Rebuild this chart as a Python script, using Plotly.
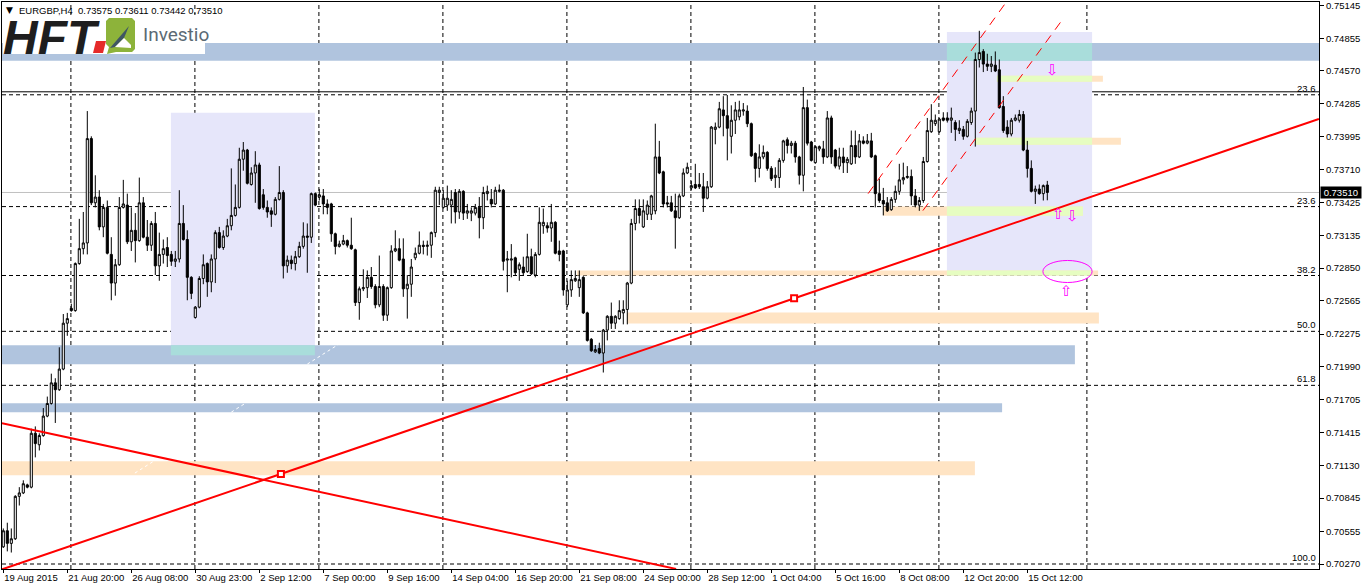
import plotly.graph_objects as go

# ---------------- data (EURGBP H4) ----------------
bars = list(range(262))

open_ = [0.7042,0.7056,0.7045,0.7049,0.7086,0.7089,0.7096,0.7094,0.7141,0.7131,
0.7139,0.7156,0.7167,0.7185,0.7179,0.7197,0.7237,0.7250,0.7248,0.7289,
0.7302,0.7307,0.7398,0.7342,0.7347,0.7321,0.7338,0.7297,0.7272,0.7288,
0.7338,0.7340,0.7308,0.7318,0.7309,0.7342,0.7312,0.7305,0.7324,0.7287,
0.7297,0.7303,0.7297,0.7291,0.7293,0.7324,0.7310,0.7277,0.7242,0.7251,
0.7276,0.7289,0.7273,0.7293,0.7316,0.7303,0.7313,0.7322,0.7331,0.7338,
0.7380,0.7388,0.7358,0.7368,0.7375,0.7349,0.7338,0.7335,0.7332,0.7345,
0.7351,0.7287,0.7292,0.7289,0.7295,0.7304,0.7313,0.7312,0.7350,0.7347,
0.7348,0.7341,0.7341,0.7315,0.7304,0.7306,0.7309,0.7305,0.7301,0.7255,
0.7267,0.7268,0.7277,0.7269,0.7253,0.7269,0.7244,0.7268,0.7300,0.7302,
0.7293,0.7267,0.7271,0.7294,0.7298,0.7305,0.7304,0.7305,0.7316,0.7351,
0.7338,0.7340,0.7340,0.7351,0.7334,0.7352,0.7333,0.7333,0.7333,0.7338,
0.7329,0.7350,0.7345,0.7341,0.7352,0.7353,0.7292,0.7292,0.7294,0.7284,
0.7286,0.7282,0.7295,0.7279,0.7297,0.7322,0.7322,0.7320,0.7325,0.7300,
0.7300,0.7253,0.7266,0.7274,0.7268,0.7277,0.7246,0.7223,0.7212,0.7215,
0.7211,0.7231,0.7243,0.7237,0.7241,0.7246,0.7249,0.7272,0.7324,0.7337,
0.7321,0.7332,0.7332,0.7335,0.7382,0.7369,0.7342,0.7342,0.7335,0.7329,
0.7348,0.7368,0.7355,0.7358,0.7358,0.7356,0.7346,0.7356,0.7406,0.7408,
0.7423,0.7418,0.7400,0.7414,0.7417,0.7422,0.7422,0.7411,0.7385,0.7372,
0.7382,0.7386,0.7372,0.7364,0.7364,0.7379,0.7397,0.7392,0.7394,0.7382,
0.7366,0.7425,0.7395,0.7377,0.7389,0.7389,0.7382,0.7416,0.7388,0.7374,
0.7382,0.7377,0.7376,0.7392,0.7382,0.7396,0.7394,0.7396,0.7383,0.7350,
0.7344,0.7342,0.7336,0.7345,0.7352,0.7362,0.7364,0.7365,0.7348,0.7340,
0.7344,0.7378,0.7404,0.7411,0.7404,0.7416,0.7416,0.7414,0.7412,0.7405,
0.7406,0.7400,0.7412,0.7422,0.7467,0.7474,0.7463,0.7461,0.7462,0.7458,
0.7426,0.7408,0.7402,0.7414,0.7414,0.7419,0.7388,0.7372,0.7352,0.7354,
0.7350,0.73575]

high = [0.7058,0.7063,0.7058,0.7087,0.7094,0.7100,0.7097,0.7145,0.7147,0.7141,
0.7163,0.7173,0.7193,0.7189,0.7216,0.7245,0.7246,0.7254,0.7290,0.7328,
0.7334,0.7422,0.7400,0.7366,0.7353,0.7341,0.7344,0.7312,0.7293,0.7347,
0.7362,0.7350,0.7338,0.7333,0.7364,0.7347,0.7327,0.7326,0.7334,0.7316,
0.7310,0.7312,0.7300,0.7300,0.7353,0.7340,0.7318,0.7278,0.7252,0.7278,
0.7297,0.7290,0.7297,0.7318,0.7321,0.7318,0.7328,0.7372,0.7358,0.7390,
0.7395,0.7389,0.7373,0.7387,0.7377,0.7354,0.7344,0.7338,0.7347,0.7374,
0.7353,0.7296,0.7296,0.7300,0.7308,0.7325,0.7324,0.7351,0.7351,0.7354,
0.7354,0.7345,0.7342,0.7316,0.7309,0.7314,0.7310,0.7329,0.7302,0.7269,
0.7284,0.7283,0.7286,0.7271,0.7296,0.7271,0.7269,0.7305,0.7318,0.7311,
0.7311,0.7279,0.7293,0.7303,0.7317,0.7309,0.7309,0.7317,0.7356,0.7356,
0.7353,0.7357,0.7353,0.7354,0.7354,0.7353,0.7341,0.7338,0.7341,0.7347,
0.7356,0.7357,0.7354,0.7356,0.7358,0.7354,0.7300,0.7306,0.7295,0.7290,
0.7295,0.7315,0.7302,0.7299,0.7338,0.7337,0.7325,0.7341,0.7326,0.7309,
0.7301,0.7274,0.7283,0.7283,0.7283,0.7278,0.7247,0.7224,0.7218,0.7220,
0.7232,0.7244,0.7255,0.7244,0.7257,0.7257,0.7273,0.7328,0.7345,0.7345,
0.7345,0.7344,0.7349,0.7411,0.7396,0.7370,0.7348,0.7348,0.7350,0.7350,
0.7372,0.7377,0.7361,0.7376,0.7368,0.7368,0.7361,0.7409,0.7412,0.7430,
0.7435,0.7436,0.7427,0.7430,0.7431,0.7429,0.7427,0.7412,0.7386,0.7393,
0.7392,0.7387,0.7374,0.7373,0.7381,0.7397,0.7399,0.7396,0.7396,0.7383,
0.7443,0.7432,0.7396,0.7392,0.7392,0.7396,0.7422,0.7418,0.7389,0.7390,
0.7390,0.7382,0.7405,0.7405,0.7402,0.7400,0.7402,0.7403,0.7384,0.7363,
0.7355,0.7347,0.7347,0.7357,0.7376,0.7377,0.7374,0.7371,0.7354,0.7347,
0.7382,0.7416,0.7428,0.7419,0.7416,0.7421,0.7421,0.7425,0.7414,0.7414,
0.7409,0.7415,0.7425,0.7473,0.7492,0.7476,0.7472,0.7470,0.7474,0.7467,
0.7435,0.7414,0.7416,0.7419,0.7423,0.7422,0.7396,0.7379,0.7357,0.7358,
0.7358,0.73611]

low = [0.7041,0.7038,0.7037,0.7048,0.7078,0.7088,0.7093,0.7093,0.7120,0.7126,
0.7138,0.7155,0.7166,0.7150,0.7178,0.7196,0.7226,0.7247,0.7247,0.7288,
0.7297,0.7297,0.7340,0.7338,0.7318,0.7312,0.7297,0.7257,0.7261,0.7287,
0.7337,0.7306,0.7300,0.7290,0.7308,0.7311,0.7300,0.7300,0.7279,0.7274,
0.7289,0.7286,0.7287,0.7286,0.7290,0.7309,0.7257,0.7258,0.7241,0.7250,
0.7271,0.7260,0.7264,0.7272,0.7302,0.7301,0.7312,0.7318,0.7330,0.7337,
0.7370,0.7358,0.7357,0.7342,0.7336,0.7336,0.7329,0.7321,0.7331,0.7344,
0.7276,0.7281,0.7284,0.7283,0.7294,0.7302,0.7281,0.7307,0.7339,0.7344,
0.7332,0.7332,0.7308,0.7297,0.7303,0.7305,0.7303,0.7301,0.7252,0.7240,
0.7265,0.7259,0.7267,0.7250,0.7251,0.7239,0.7239,0.7267,0.7299,0.7291,
0.7260,0.7241,0.7260,0.7292,0.7297,0.7297,0.7296,0.7294,0.7312,0.7340,
0.7337,0.7335,0.7324,0.7324,0.7328,0.7327,0.7328,0.7326,0.7331,0.7311,
0.7319,0.7344,0.7338,0.7340,0.7351,0.7283,0.7264,0.7277,0.7279,0.7274,
0.7279,0.7281,0.7279,0.7277,0.7296,0.7315,0.7316,0.7308,0.7297,0.7291,
0.7261,0.7251,0.7260,0.7273,0.7260,0.7245,0.7221,0.7212,0.7211,0.7210,
0.7194,0.7222,0.7232,0.7232,0.7240,0.7236,0.7236,0.7271,0.7318,0.7324,
0.7320,0.7327,0.7327,0.7332,0.7367,0.7338,0.7338,0.7334,0.7302,0.7328,
0.7347,0.7367,0.7353,0.7354,0.7354,0.7334,0.7345,0.7355,0.7393,0.7407,
0.7400,0.7379,0.7385,0.7402,0.7414,0.7418,0.7408,0.7382,0.7360,0.7364,
0.7380,0.7370,0.7361,0.7355,0.7355,0.7377,0.7385,0.7385,0.7377,0.7358,
0.7352,0.7392,0.7378,0.7376,0.7387,0.7376,0.7381,0.7376,0.7372,0.7371,
0.7368,0.7368,0.7375,0.7376,0.7381,0.7393,0.7393,0.7381,0.7338,0.7342,
0.7331,0.7334,0.7335,0.7342,0.7349,0.7358,0.7363,0.7340,0.7338,0.7335,
0.7342,0.7377,0.7403,0.7409,0.7403,0.7413,0.7412,0.7403,0.7396,0.7402,
0.7397,0.7399,0.7410,0.7391,0.7460,0.7456,0.7457,0.7456,0.7456,0.7424,
0.7403,0.7399,0.7400,0.7413,0.7412,0.7387,0.7364,0.7351,0.7341,0.7349,
0.7344,0.73442]

close = [0.7056,0.7045,0.7049,0.7086,0.7089,0.7097,0.7094,0.7141,0.7132,0.7139,
0.7156,0.7167,0.7185,0.7179,0.7197,0.7237,0.7241,0.7248,0.7289,0.7302,
0.7307,0.7398,0.7342,0.7347,0.7321,0.7338,0.7298,0.7272,0.7288,0.7338,
0.7341,0.7308,0.7318,0.7309,0.7342,0.7312,0.7305,0.7324,0.7287,0.7297,
0.7302,0.7296,0.7291,0.7293,0.7324,0.7310,0.7277,0.7263,0.7251,0.7276,
0.7288,0.7273,0.7293,0.7316,0.7303,0.7313,0.7322,0.7331,0.7338,0.7380,
0.7388,0.7359,0.7368,0.7375,0.7337,0.7338,0.7334,0.7332,0.7345,0.7351,
0.7287,0.7292,0.7289,0.7295,0.7304,0.7313,0.7312,0.7350,0.7340,0.7349,
0.7341,0.7338,0.7315,0.7304,0.7306,0.7309,0.7305,0.7302,0.7255,0.7267,
0.7268,0.7277,0.7269,0.7253,0.7269,0.7244,0.7268,0.7300,0.7302,0.7292,
0.7267,0.7271,0.7286,0.7298,0.7305,0.7304,0.7305,0.7316,0.7353,0.7353,
0.7346,0.7346,0.7345,0.7334,0.7352,0.7333,0.7335,0.7335,0.7338,0.7329,
0.7351,0.7352,0.7341,0.7353,0.7353,0.7291,0.7293,0.7293,0.7281,0.7288,
0.7281,0.7295,0.7280,0.7297,0.7325,0.7325,0.7320,0.7325,0.7298,0.7297,
0.7266,0.7266,0.7275,0.7276,0.7275,0.7246,0.7222,0.7213,0.7214,0.7211,
0.7231,0.7243,0.7237,0.7243,0.7248,0.7249,0.7272,0.7324,0.7337,0.7331,
0.7335,0.7340,0.7348,0.7382,0.7368,0.7341,0.7341,0.7335,0.7329,0.7348,
0.7368,0.7373,0.7357,0.7355,0.7356,0.7346,0.7356,0.7408,0.7408,0.7424,
0.7418,0.7407,0.7414,0.7423,0.7423,0.7423,0.7411,0.7383,0.7372,0.7382,
0.7386,0.7372,0.7363,0.7366,0.7379,0.7396,0.7392,0.7394,0.7382,0.7366,
0.7425,0.7394,0.7379,0.7391,0.7391,0.7382,0.7416,0.7382,0.7374,0.7382,
0.7377,0.7380,0.7392,0.7382,0.7396,0.7394,0.7396,0.7382,0.7350,0.7344,
0.7341,0.7335,0.7345,0.7352,0.7362,0.7364,0.7365,0.7348,0.7340,0.7344,
0.7378,0.7405,0.7414,0.7414,0.7415,0.7414,0.7414,0.7416,0.7406,0.7407,
0.7400,0.7413,0.7422,0.7467,0.7473,0.7463,0.7461,0.7463,0.7457,0.7425,
0.7405,0.7402,0.7414,0.7416,0.7419,0.7388,0.7372,0.7352,0.7354,0.7350,
0.7357,0.73510]

date_tick_bars = [0, 16, 32, 48, 64, 80, 96, 112, 128, 144, 160, 176, 192, 208, 224, 240, 256]
date_tick_labels = ["19 Aug 2015", "21 Aug 20:00", "26 Aug 08:00", "30 Aug 23:00", "2 Sep 12:00",
                    "7 Sep 00:00", "9 Sep 16:00", "14 Sep 04:00", "16 Sep 20:00", "21 Sep 08:00",
                    "24 Sep 00:00", "28 Sep 12:00", "1 Oct 04:00", "5 Oct 16:00", "8 Oct 08:00",
                    "12 Oct 20:00", "15 Oct 12:00"]
price_ticks = [0.75145, 0.74855, 0.74570, 0.74285, 0.73995, 0.73710, 0.73425, 0.73135, 0.72850,
               0.72565, 0.72275, 0.71990, 0.71705, 0.71415, 0.71130, 0.70845, 0.70555, 0.70270]
week_separator_bars = [16.9, 47.9, 78.9, 109.9, 140.9, 171.9, 202.9, 233.9, 270.9]

fib_levels = [0.74362, 0.73387, 0.72786, 0.72299, 0.71828, 0.70270]
fib_labels = ["23.6", "23.6", "38.2", "50.0", "61.8", "100.0"]
top_level = 0.74388
last_price = 0.73510
symbol_title = "EURGBP,H4  0.73575 0.73611 0.73442 0.73510"

# trend lines (bar index, price)
uptrend_bars = [-0.33, 328.9]
uptrend_prices = [0.70223, 0.74152]
uptrend_anchor_bars = [69.4, 197.7]
uptrend_anchor_prices = [0.71055, 0.72587]
downtrend_bars = [-0.33, 168.2]
downtrend_prices = [0.71498, 0.70227]
channel_upper_bars = [216.2, 250.4]
channel_upper_prices = [0.73500, 0.75154]
channel_lower_bars = [229.9, 264.9]
channel_lower_prices = [0.73352, 0.75023]
white_line_bars = [32.9, 84.2]
white_line_prices = [0.71063, 0.72194]

# zones: (bar_from, bar_to, price_low, price_high)
lavender_zones = [(41.9, 77.9, 0.72090, 0.74205), (235.9, 272.2, 0.72786, 0.74910)]
blue_zones = [(-1, 330, 0.74658, 0.74814), (-1, 267.9, 0.72011, 0.72177), (-1, 249.7, 0.71593, 0.71672)]
peach_zones = [(-1, 242.9, 0.71045, 0.71167), (155.9, 273.9, 0.72368, 0.72464),
               (143.4, 273.7, 0.72786, 0.72829), (219.9, 269.9, 0.73308, 0.73387),
               (242.9, 279.4, 0.73926, 0.73987), (248.4, 274.9, 0.74475, 0.74527)]

# marks: (bar, price, glyph)
arrow_bars = [262.4, 263.9, 267.4, 265.9]
arrow_prices = [0.74579, 0.73326, 0.73308, 0.72647]
arrow_glyphs = ["\u21e9", "\u21e7", "\u21e9", "\u21e7"]
ellipse_bars = [259.9, 272.2]
ellipse_prices = [0.72725, 0.72917]

# ---------------- layout geometry ----------------
W, H = 1362, 586
ML, MR, MT, MB = 2, 43, 2, 17
PW, PH = W - ML - MR, H - MT - MB
X_RANGE = [-0.325, 328.925]
Y_RANGE = [0.702264, 0.751712]


def pxp(x):
    return (x - ML) / PW


def pyp(y):
    return (H - MB - y) / PH


LAV, BLUE, PEACH = "#E6E6FA", "#B0C4DE", "#FFE4C4"
TEAL, LGREEN = "#A9DDDB", "#E6FDC1"

shapes = []


def rect(z, color):
    shapes.append(dict(type="rect", xref="x", yref="y", x0=z[0], x1=z[1], y0=z[2], y1=z[3],
                       fillcolor=color, line=dict(width=0), layer="below"))


def inter(a, b):
    x0, x1 = max(a[0], b[0]), min(a[1], b[1])
    y0, y1 = max(a[2], b[2]), min(a[3], b[3])
    if x0 < x1 and y0 < y1:
        return (x0, x1, y0, y1)
    return None


for z in lavender_zones:
    rect(z, LAV)
for z in blue_zones:
    rect(z, BLUE)
for z in peach_zones:
    rect(z, PEACH)
for lz in lavender_zones:
    for z in blue_zones:
        o = inter(lz, z)
        if o:
            rect(o, TEAL)
    for z in peach_zones:
        o = inter(lz, z)
        if o:
            rect(o, LGREEN)

shapes.append(dict(type="line", xref="x", yref="y", x0=white_line_bars[0], x1=white_line_bars[1],
                   y0=white_line_prices[0], y1=white_line_prices[1],
                   line=dict(color="white", width=1, dash="3px,3px"), layer="below"))

for b in week_separator_bars:
    shapes.append(dict(type="line", xref="x", yref="paper", x0=b, x1=b, y0=0, y1=1,
                       line=dict(color="black", width=1, dash="4px,3px"), layer="below"))
for lv in fib_levels:
    shapes.append(dict(type="line", xref="paper", yref="y", x0=0, x1=1, y0=lv, y1=lv,
                       line=dict(color="black", width=1, dash="4px,3px"), layer="below"))
shapes.append(dict(type="line", xref="paper", yref="y", x0=0, x1=1, y0=top_level, y1=top_level,
                   line=dict(color="black", width=1), layer="below"))
shapes.append(dict(type="line", xref="paper", yref="y", x0=0, x1=1, y0=last_price, y1=last_price,
                   line=dict(color="#C0C0C0", width=1), layer="below"))

shapes.append(dict(type="circle", xref="x", yref="y", x0=ellipse_bars[0], x1=ellipse_bars[1],
                   y0=ellipse_prices[0], y1=ellipse_prices[1],
                   line=dict(color="#FF00FF", width=1), layer="above"))

# ---- logo (paper coordinates from pixel positions) ----
shapes.append(dict(type="rect", xref="paper", yref="paper", x0=pxp(3), x1=pxp(205), y0=pyp(54), y1=pyp(15),
                   fillcolor="white", line=dict(width=0), layer="above"))


def poly(pts):
    return "M " + " L ".join("{},{}".format(pxp(a), pyp(b)) for a, b in pts) + " Z"


shapes.append(dict(type="path", xref="paper", yref="paper",
                   path=poly([(93, 53), (96, 41), (106, 41), (103, 53)]),
                   fillcolor="#E52A2A", line=dict(width=0), layer="above"))
shapes.append(dict(type="path", xref="paper", yref="paper",
                   path=poly([(109, 18), (132, 18), (135, 21), (135, 49), (132, 52), (116, 52),
                              (107, 54), (109, 47), (106, 44), (106, 21)]),
                   fillcolor="#8DB33A", line=dict(width=0), layer="above"))
shapes.append(dict(type="path", xref="paper", yref="paper",
                   path=poly([(110, 48), (129, 26), (124, 38), (115, 47)]),
                   fillcolor="#3F5663", line=dict(width=0), layer="above"))
shapes.append(dict(type="path", xref="paper", yref="paper",
                   path=poly([(115, 47), (124, 38), (131, 45), (131, 48)]),
                   fillcolor="#FFFFFF", line=dict(width=0), layer="above"))

annotations = []
FONT = "Liberation Sans"
annotations.append(dict(xref="paper", yref="paper", x=pxp(4), y=pyp(10), xanchor="left", yanchor="middle",
                        text="\u25bc", showarrow=False, font=dict(family="DejaVu Sans", size=9, color="black")))
annotations.append(dict(xref="paper", yref="paper", x=pxp(17), y=pyp(10), xanchor="left", yanchor="middle",
                        text=symbol_title.replace("  ", "&nbsp;&nbsp;"), showarrow=False,
                        font=dict(family=FONT, size=9.5, color="black")))
annotations.append(dict(xref="paper", yref="paper", x=pxp(1), y=pyp(37), xanchor="left", yanchor="middle",
                        text="<b><i>HFT</i></b>", showarrow=False, height=38, valign="middle",
                        font=dict(family=FONT, size=48, color="#1E1E1E")))
annotations.append(dict(xref="paper", yref="paper", x=pxp(141), y=pyp(34), xanchor="left", yanchor="middle",
                        text="Investio", showarrow=False,
                        font=dict(family="Roboto", size=19, color="#5B6A74")))

for lv, lab in zip(fib_levels, fib_labels):
    annotations.append(dict(xref="paper", yref="y", x=1, y=lv, xanchor="right", yanchor="bottom",
                            xshift=-2, text=lab, showarrow=False, borderpad=0,
                            font=dict(family=FONT, size=9.5, color="black")))

# top price label (kept visible at the upper edge)
annotations.append(dict(xref="paper", yref="y", x=1, y=price_ticks[0], xanchor="left", yanchor="middle",
                        xshift=6, text="{:.5f}".format(price_ticks[0]), showarrow=False, borderpad=0,
                        font=dict(family=FONT, size=9.5, color="black")))

annotations.append(dict(xref="paper", yref="y", x=1, y=last_price, xanchor="left", yanchor="middle",
                        xshift=1, text="&nbsp;" + "{:.5f}".format(last_price) + "&nbsp;",
                        showarrow=False, bgcolor="black", borderpad=0,
                        font=dict(family=FONT, size=9.5, color="white")))

for b, p, g in zip(arrow_bars, arrow_prices, arrow_glyphs):
    annotations.append(dict(xref="x", yref="y", x=b, y=p, text=g, showarrow=False,
                            font=dict(family="DejaVu Sans", size=15, color="#FF00FF")))

fig = go.Figure()
fig.add_trace(go.Candlestick(
    x=bars, open=open_, high=high, low=low, close=close,
    increasing=dict(line=dict(color="black", width=1), fillcolor="white"),
    decreasing=dict(line=dict(color="black", width=1), fillcolor="black"),
    whiskerwidth=0, hoverinfo="skip", showlegend=False))

fig.add_trace(go.Scatter(x=uptrend_bars, y=uptrend_prices, mode="lines",
                         line=dict(color="#FF0000", width=2), hoverinfo="skip", showlegend=False))
fig.add_trace(go.Scatter(x=downtrend_bars, y=downtrend_prices, mode="lines",
                         line=dict(color="#FF0000", width=2), hoverinfo="skip", showlegend=False))
fig.add_trace(go.Scatter(x=channel_upper_bars, y=channel_upper_prices, mode="lines",
                         line=dict(color="#FF0000", width=1, dash="9px,7px"), hoverinfo="skip", showlegend=False))
fig.add_trace(go.Scatter(x=channel_lower_bars, y=channel_lower_prices, mode="lines",
                         line=dict(color="#FF0000", width=1, dash="9px,7px"), hoverinfo="skip", showlegend=False))
fig.add_trace(go.Scatter(x=uptrend_anchor_bars, y=uptrend_anchor_prices, mode="markers",
                         marker=dict(symbol="square", size=6, color="white",
                                     line=dict(color="#FF0000", width=2)),
                         hoverinfo="skip", showlegend=False))

fig.update_layout(
    width=W, height=H,
    margin=dict(l=ML, r=MR, t=MT, b=MB, pad=0, autoexpand=False),
    paper_bgcolor="white", plot_bgcolor="white",
    showlegend=False, boxgap=0.25,
    shapes=shapes, annotations=annotations,
    xaxis=dict(range=X_RANGE, tickmode="array", tickvals=date_tick_bars, ticktext=date_tick_labels,
               ticks="outside", ticklen=3, tickcolor="black", showline=True, linecolor="black",
               linewidth=1, mirror=True, showgrid=False, zeroline=False, automargin=False,
               tickangle=0, rangeslider=dict(visible=False), ticklabelposition="outside right",
               tickfont=dict(family=FONT, size=9.5, color="black"), fixedrange=True),
    yaxis=dict(side="right", range=Y_RANGE, tickmode="array", tickvals=price_ticks,
               ticktext=[""] + ["{:.5f}".format(v) for v in price_ticks[1:]], automargin=False,
               ticks="outside", ticklen=4, tickcolor="black", showline=True, linecolor="black",
               linewidth=1, mirror=True, showgrid=False, zeroline=False,
               tickfont=dict(family=FONT, size=9.5, color="black"), fixedrange=True),
)

fig.write_html("out.html", config={"displayModeBar": False},
               post_script="document.body.style.margin='0';document.body.style.overflow='hidden';")
